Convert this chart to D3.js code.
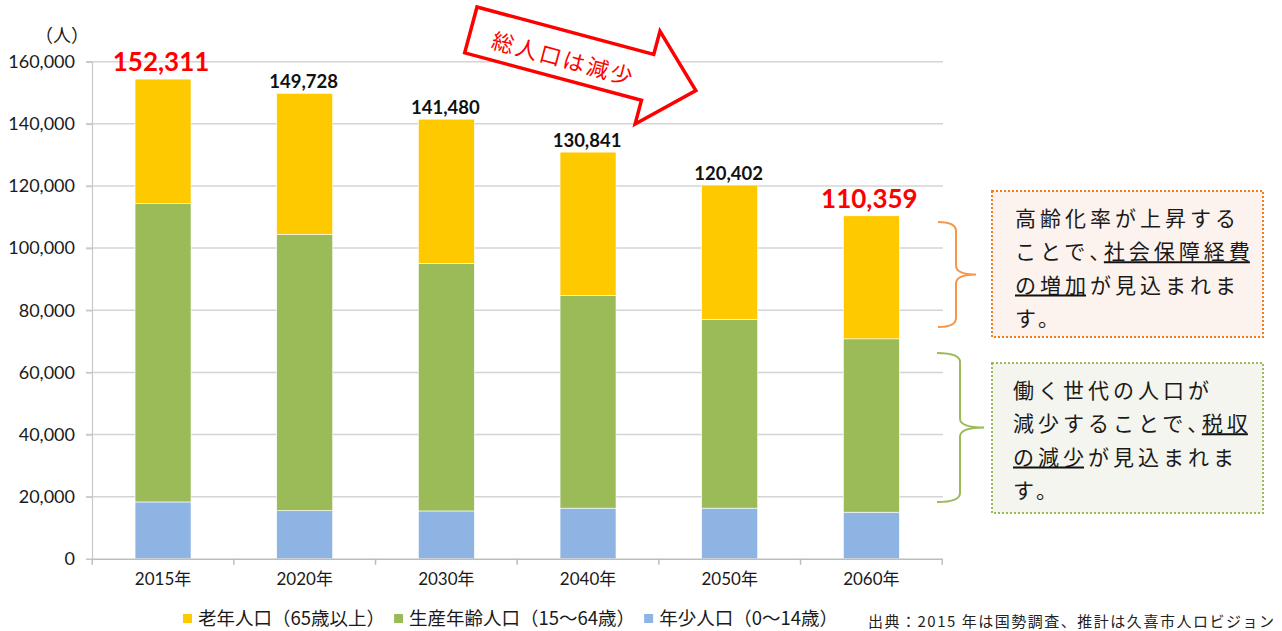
<!DOCTYPE html>
<html>
<head>
<meta charset="utf-8">
<script src="https://cdn.jsdelivr.net/npm/d3@7"></script>
<style>
  body { margin: 0; background: #fff; }
  text { font-family: Lato, "Noto Sans CJK JP", sans-serif; }
  .jp { font-family: "Noto Sans CJK JP", sans-serif; }
</style>
</head>
<body>
<script>
// data (persons)
var years = ["2015年", "2020年", "2030年", "2040年", "2050年", "2060年"];
var young = [18300, 15500, 15400, 16300, 16300, 15000];
var working = [96000, 88900, 79700, 68500, 60800, 55800];
var elderly = [40100, 45400, 46400, 46100, 43200, 39600];
var totals = [152311, 149728, 141480, 130841, 120402, 110359];
var highlight = [true, false, false, false, false, true];
var yTicks = [0, 20000, 40000, 60000, 80000, 100000, 120000, 140000, 160000];

var seriesKeys = ["young", "working", "elderly"];
var seriesNames = ["老年人口（65歳以上）", "生産年齢人口（15～64歳）", "年少人口（0～14歳）"];
var seriesColors = {young: "#8eb4e3", working: "#9bbb59", elderly: "#ffc900"};
var legendKeys = ["elderly", "working", "young"];

var width = 1282, height = 631;

var svg = d3.select("body").append("svg")
    .attr("width", width)
    .attr("height", height);

var x = d3.scaleBand()
    .domain(years)
    .range([92.2, 942.2])
    .paddingInner(0.605)
    .paddingOuter(0.3025);

var y = d3.scaleLinear()
    .domain([0, 160000])
    .range([558.8, 61.7]);

// gridlines
svg.append("g")
  .selectAll("line")
    .data(yTicks.filter(function(d) { return d > 0; }))
  .enter().append("line")
    .attr("x1", 86)
    .attr("x2", 943)
    .attr("y1", function(d) { return y(d); })
    .attr("y2", function(d) { return y(d); })
    .style("stroke", "#d4d4d4")
    .style("stroke-width", 1.5);

// y axis
var yAxis = svg.append("g")
    .attr("transform", "translate(92,0)")
    .call(d3.axisLeft(y).tickValues(yTicks).tickSize(6).tickPadding(11).tickFormat(d3.format(",")));
yAxis.select(".domain").style("stroke", "#c8c8c8").style("stroke-width", 1.2);
yAxis.selectAll(".tick line").style("stroke", "#c8c8c8").style("stroke-width", 1.5);
yAxis.selectAll(".tick text")
    .style("font-size", "18px")
    .style("fill", "#1a1a1a")
    .style("font-family", "Lato, sans-serif");

// unit
svg.append("text")
    .attr("class", "jp")
    .attr("x", 62)
    .attr("y", 42)
    .attr("text-anchor", "middle")
    .style("font-size", "18px")
    .style("fill", "#1a1a1a")
    .text("（人）");

// stacked bars
var rows = years.map(function(d, i) {
  return {year: d, young: young[i], working: working[i], elderly: elderly[i]};
});
var stack = d3.stack().keys(seriesKeys)(rows);

svg.append("g")
  .selectAll("g")
    .data(stack)
  .enter().append("g")
    .style("fill", function(d) { return seriesColors[d.key]; })
  .selectAll("rect")
    .data(function(d) { return d; })
  .enter().append("rect")
    .attr("x", function(d) { return x(d.data.year); })
    .attr("width", x.bandwidth())
    .attr("y", function(d) { return y(d[1]); })
    .attr("height", function(d) { return y(d[0]) - y(d[1]); })
    .style("stroke", "#ffffff")
    .style("stroke-width", 0.6);

// x axis
var xAxis = svg.append("g")
    .attr("transform", "translate(0," + y(0) + ")")
    .call(d3.axisBottom(x).tickSize(0).tickPadding(14));
xAxis.select(".domain").style("stroke", "#bdbdbd").style("stroke-width", 1.5);
xAxis.selectAll(".tick text")
    .style("font-size", "17px")
    .style("fill", "#1a1a1a");
xAxis.selectAll(".bound")
    .data(d3.range(years.length + 1))
  .enter().append("line")
    .attr("x1", function(i) { return 92.2 + i * x.step(); })
    .attr("x2", function(i) { return 92.2 + i * x.step(); })
    .attr("y1", 0)
    .attr("y2", 6)
    .style("stroke", "#bdbdbd")
    .style("stroke-width", 1.5);

// total labels
svg.append("g")
  .selectAll("text")
    .data(totals)
  .enter().append("text")
    .attr("x", function(d, i) { return x(years[i]) + x.bandwidth() / 2 - (highlight[i] ? 2 : 1); })
    .attr("y", function(d, i) { return y(young[i] + working[i] + elderly[i]) - (highlight[i] ? 8 : 5); })
    .attr("text-anchor", "middle")
    .style("font-weight", "bold")
    .style("font-size", function(d, i) { return highlight[i] ? "26px" : "18.5px"; })
    .style("fill", function(d, i) { return highlight[i] ? "#ff0000" : "#111"; })
    .text(function(d) { return d3.format(",")(d); });

// arrow: 総人口は減少
var arrow = svg.append("g")
    .attr("transform", "translate(477,7) rotate(15)");
arrow.append("path")
    .attr("d", "M0,0 L183,0 L183,-24 L233,24 L183,72 L183,47.5 L0,47.5 Z")
    .style("fill", "#fff")
    .style("stroke", "#ff0000")
    .style("stroke-width", 3.5)
    .style("stroke-linejoin", "miter");
arrow.append("text")
    .attr("class", "jp")
    .attr("x", 97)
    .attr("y", 26)
    .attr("text-anchor", "middle")
    .attr("dominant-baseline", "central")
    .style("font-size", "22px")
    .style("letter-spacing", "2.5px")
    .style("fill", "#ff0000")
    .text("総人口は減少");

// braces
function brace(x0, y0, y1, xm, xt, col) {
  var ym = (y0 + y1) / 2, r = 9;
  var p = "M" + x0 + "," + y0 +
    " Q" + xm + "," + y0 + " " + xm + "," + (y0 + r) +
    " L" + xm + "," + (ym - r) +
    " Q" + xm + "," + ym + " " + xt + "," + ym +
    " Q" + xm + "," + ym + " " + xm + "," + (ym + r) +
    " L" + xm + "," + (y1 - r) +
    " Q" + xm + "," + y1 + " " + x0 + "," + y1;
  svg.append("path")
      .attr("d", p)
      .style("fill", "none")
      .style("stroke", col)
      .style("stroke-width", 2);
}
brace(938, 222, 327, 956, 976, "#f79646");
brace(937, 353, 502, 960, 984, "#9bbb59");

// annotation boxes
var fontSize = 21, spacing = 4, lineGap = 33.3;

function note(bx, by, bw, bh, fill, border, tx, ty, lines) {
  svg.append("rect")
      .attr("x", bx).attr("y", by)
      .attr("width", bw).attr("height", bh)
      .style("fill", fill)
      .style("stroke", border)
      .style("stroke-width", 2)
      .style("stroke-dasharray", "2,2");
  lines.forEach(function(line, li) {
    var cx = tx, by2 = ty + li * lineGap;
    line.forEach(function(seg) {
      var t = svg.append("text")
          .attr("class", "jp")
          .attr("x", cx)
          .attr("y", by2)
          .style("font-size", fontSize + "px")
          .style("letter-spacing", spacing + "px")
          .style("fill", "#1a1a1a")
          .style("font-feature-settings", seg.p ? "'palt'" : "normal")
          .text(seg.t);
      var len = t.node().getComputedTextLength();
      if (seg.u) {
        svg.append("line")
            .attr("x1", cx).attr("x2", cx + len - spacing)
            .attr("y1", by2 + 3).attr("y2", by2 + 3)
            .style("stroke", "#111")
            .style("stroke-width", 2);
      }
      cx += len;
    });
  });
}

note(992, 191, 271, 146, "#fdf3ee", "#f07f1f", 1015, 226, [
  [{t: "高齢化率が上昇する"}],
  [{t: "ことで"}, {t: "、", p: true}, {t: "社会保障経費", u: true}],
  [{t: "の増加", u: true}, {t: "が見込まれま"}],
  [{t: "す。"}]
]);

note(992, 363, 271, 150, "#f4f5ee", "#9bbb59", 1013, 398, [
  [{t: "働く世代の人口が"}],
  [{t: "減少することで"}, {t: "、", p: true}, {t: "税収", u: true}],
  [{t: "の減少", u: true}, {t: "が見込まれま"}],
  [{t: "す。"}]
]);

// legend
var lx = 183;
legendKeys.forEach(function(k, i) {
  svg.append("rect")
      .attr("x", lx).attr("y", 614)
      .attr("width", 9).attr("height", 9)
      .style("fill", seriesColors[k]);
  var t = svg.append("text")
      .attr("class", "jp")
      .attr("x", lx + 15)
      .attr("y", 625)
      .style("font-size", "18.5px")
      .style("fill", "#1a1a1a")
      .text(seriesNames[i]);
  lx += 15 + t.node().getComputedTextLength() + 9;
});

// source
svg.append("text")
    .attr("class", "jp")
    .attr("x", 868)
    .attr("y", 627)
    .attr("textLength", 406)
    .style("font-size", "15px")
    .style("fill", "#222")
    .text("出典：2015 年は国勢調査、推計は久喜市人ロビジョン");
</script>
</body>
</html>
